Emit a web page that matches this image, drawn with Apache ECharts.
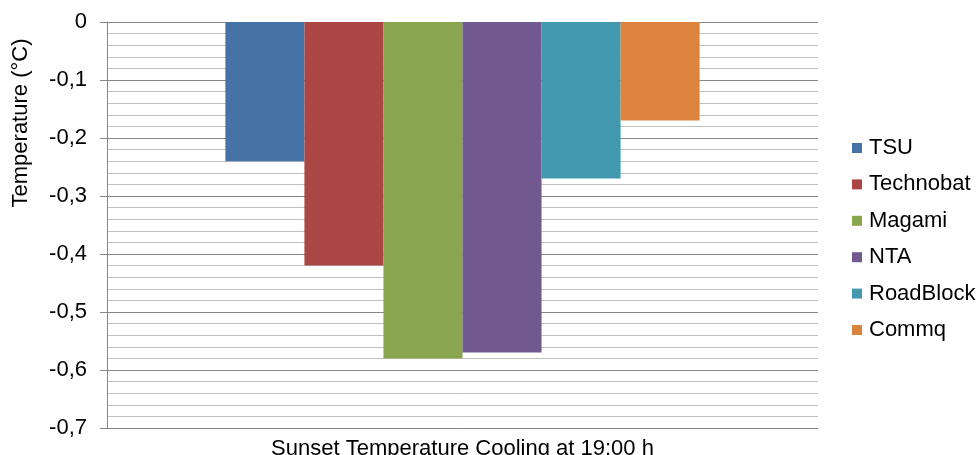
<!DOCTYPE html>
<html>
<head>
<meta charset="utf-8">
<script src="https://cdn.jsdelivr.net/npm/echarts@6/dist/echarts.min.js"></script>
<style>
  html, body { margin: 0; padding: 0; background: #fff; }
  #chart { width: 979px; height: 455px; }
</style>
</head>
<body>
<div id="chart"></div>
<script>
// Data
const categories = ['Sunset Temperature Cooling at 19:00 h']
const seriesNames = ['TSU', 'Technobat', 'Magami', 'NTA', 'RoadBlock', 'Commq']
const seriesValues = [-0.24, -0.42, -0.58, -0.57, -0.27, -0.17]
const seriesColors = ['#4572a7', '#aa4643', '#89a54e', '#71588f', '#4198af', '#db843d']

const font = 'Liberation Sans, Arial, sans-serif'

const chart = echarts.init(document.getElementById('chart'))

const series = seriesNames.map((name, i) => ({
  name: name,
  type: 'bar',
  data: [seriesValues[i]],
  barGap: '0%',
  barCategoryGap: '33.3%',
  itemStyle: { color: seriesColors[i] }
}))

chart.setOption({
  animation: false,
  textStyle: { fontFamily: font },
  grid: { left: 107, top: 22, right: 161, bottom: 27, outerBoundsMode: 'none', containLabel: false },
  legend: {
    orient: 'vertical',
    left: 847,
    top: 132,
    itemWidth: 10,
    itemHeight: 10,
    itemGap: 14.4,
    icon: 'rect',
    textStyle: { fontSize: 22, lineHeight: 22, color: '#000', fontFamily: font, padding: [0, 0, 0, 2] },
    data: seriesNames
  },
  xAxis: {
    type: 'category',
    data: categories,
    axisLine: { onZero: false, lineStyle: { color: '#868686', width: 1 } },
    axisTick: { show: false },
    axisLabel: { fontSize: 22, color: '#000', margin: 10 }
  },
  yAxis: {
    type: 'value',
    min: -0.7,
    max: 0,
    interval: 0.1,
    name: 'Temperature (°C)',
    nameLocation: 'middle',
    nameGap: 75,
    nameTextStyle: { fontSize: 22, color: '#000', padding: [0, 0, 0, 204] },
    axisLine: { show: true, lineStyle: { color: '#868686', width: 1 } },
    axisTick: { show: true, inside: false, length: 7, lineStyle: { color: '#868686' } },
    axisLabel: {
      fontSize: 22,
      color: '#000',
      margin: 20,
      formatter: v => (Math.abs(v) < 1e-9 ? '0' : v.toFixed(1).replace('.', ','))
    },
    splitLine: { show: true, lineStyle: { color: '#868686', width: 1 } },
    minorTick: { show: false, splitNumber: 5 },
    minorSplitLine: { show: true, lineStyle: { color: '#c0c0c0', width: 1 } }
  },
  series: series
})
</script>
</body>
</html>
